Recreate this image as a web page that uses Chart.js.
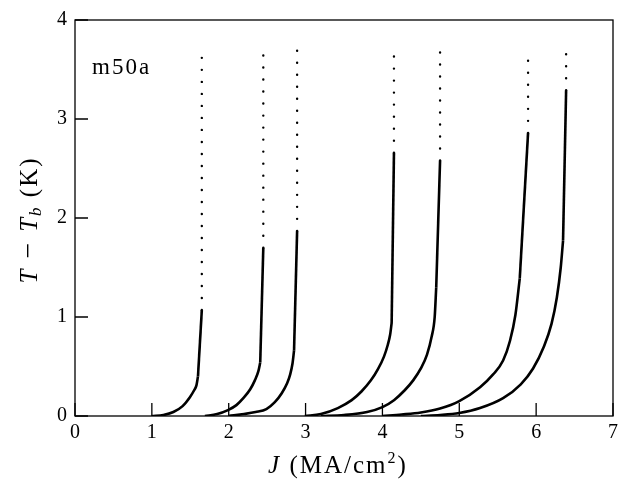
<!DOCTYPE html>
<html>
<head>
<meta charset="utf-8">
<script src="https://cdn.jsdelivr.net/npm/chart.js@4/dist/chart.umd.min.js"></script>
<style>
  html, body { margin: 0; padding: 0; background: #fff; }
  #wrap { width: 639px; height: 481px; }
</style>
</head>
<body>
<div id="wrap"><canvas id="grafico" width="639" height="481"></canvas></div>
<script>
// curvas T - Tb contra J, una por muestra.
// el penultimo punto es donde empieza el tramo recto, el ultimo es el corte
const j1 = [1.00, 1.15, 1.28, 1.40, 1.495, 1.55, 1.58, 1.60, 1.65];
const t1 = [0.00, 0.01, 0.04, 0.10, 0.19, 0.26, 0.31, 0.40, 1.07];
const j2 = [1.69, 1.85, 1.99, 2.10, 2.19, 2.28, 2.34, 2.385, 2.41, 2.45];
const t2 = [0.00, 0.02, 0.06, 0.11, 0.18, 0.27, 0.36, 0.45, 0.54, 1.70];
const j3 = [2.00, 2.20, 2.35, 2.49, 2.60, 2.69, 2.76, 2.80, 2.83, 2.85, 2.89];
const t3 = [0.00, 0.02, 0.04, 0.07, 0.14, 0.23, 0.33, 0.42, 0.53, 0.66, 1.87];
const j4 = [2.99, 3.20, 3.42, 3.60, 3.73, 3.85, 3.94, 4.02, 4.07, 4.10, 4.12, 4.15];
const t4 = [0.00, 0.02, 0.08, 0.16, 0.25, 0.36, 0.47, 0.60, 0.72, 0.82, 0.94, 2.66];
const j5 = [3.20, 3.50, 3.80, 4.00, 4.15, 4.29, 4.40, 4.50, 4.58, 4.64, 4.68, 4.70, 4.75];
const t5 = [0.00, 0.01, 0.04, 0.09, 0.16, 0.26, 0.36, 0.48, 0.62, 0.80, 1.00, 1.30, 2.58];
const j6 = [4.00, 4.25, 4.50, 4.75, 5.00, 5.27, 5.44, 5.57, 5.66, 5.73, 5.787, 5.895];
const t6 = [0.00, 0.015, 0.035, 0.075, 0.15, 0.29, 0.42, 0.56, 0.76, 1.02, 1.39, 2.86];
const j7 = [4.50, 4.75, 5.00, 5.27, 5.57, 5.80, 5.96, 6.10, 6.20, 6.27, 6.32, 6.35, 6.39];
const t7 = [0.00, 0.01, 0.03, 0.08, 0.18, 0.32, 0.48, 0.70, 0.93, 1.20, 1.50, 1.77, 3.29];

// altura hasta donde sube la linea punteada de cada curva
const topePunteado = [3.67, 3.69, 3.72, 3.71, 3.73, 3.65, 3.71];

const ticksX = [0, 1, 2, 3, 4, 5, 6, 7];
const ticksY = [0, 1, 2, 3, 4];
const etiqueta = "m50a";

const curvas = [[j1, t1], [j2, t2], [j3, t3], [j4, t4], [j5, t5], [j6, t6], [j7, t7]];
const FUENTE = "'Liberation Serif', 'DejaVu Serif', serif";

let datasets = [];
curvas.forEach((c, i) => {
    let pts = c[0].map((x, k) => ({ x: x, y: c[1][k] }));
    let n = pts.length;
    // parte curva
    datasets.push({
        data: pts.slice(0, n - 1), showLine: true, borderColor: '#000', borderWidth: 2.6,
        pointRadius: 0, cubicInterpolationMode: 'monotone'
    });
    // tramo recto final
    datasets.push({
        data: pts.slice(n - 2), showLine: true, borderColor: '#000', borderWidth: 2.6,
        pointRadius: 0, tension: 0
    });
    // punteado vertical desde el corte
    let fin = pts[n - 1];
    datasets.push({
        data: [fin, { x: fin.x, y: topePunteado[i] }], showLine: true,
        borderColor: '#000', borderWidth: 2.4, borderDash: [0.01, 12],
        borderCapStyle: 'round', pointRadius: 0
    });
});

// marco, marcas hacia dentro y textos de los ejes
const marcoYTextos = {
    id: 'marcoYTextos',
    afterDraw(chart) {
        const ctx = chart.ctx;
        const a = chart.chartArea;
        const sx = chart.scales.x, sy = chart.scales.y;
        ctx.save();
        ctx.strokeStyle = '#000';
        ctx.lineWidth = 1.3;
        ctx.strokeRect(a.left, a.top, a.right - a.left, a.bottom - a.top);
        ctx.beginPath();
        ticksX.forEach(v => {
            let px = sx.getPixelForValue(v);
            ctx.moveTo(px, a.bottom); ctx.lineTo(px, a.bottom - 13);
        });
        ticksY.forEach(v => {
            let py = sy.getPixelForValue(v);
            ctx.moveTo(a.left, py); ctx.lineTo(a.left + 13, py);
        });
        ctx.stroke();

        ctx.fillStyle = '#000';
        ctx.textBaseline = 'alphabetic';
        ctx.letterSpacing = '2px';
        ctx.font = "23px " + FUENTE;
        ctx.fillText(etiqueta, 92, 74);

        // titulo eje x: J (MA/cm2)
        const fIt = "italic 25px " + FUENTE, fN = "25px " + FUENTE, fS = "16px " + FUENTE;
        let partes = [["J", fIt, 0], [" (MA/cm", fN, 0], ["2", fS, -10], [")", fN, 0]];
        dibujarPartes(ctx, partes, 338, 473);

        // titulo eje y: T - Tb (K), girado
        ctx.save();
        ctx.translate(37, 220);
        ctx.rotate(-Math.PI / 2);
        partes = [["T", fIt, 0], [" \u2212 ", "28px " + FUENTE, 0], ["T", fIt, 0], ["b", "italic 17px " + FUENTE, 4], [" (K)", fN, 0]];
        dibujarPartes(ctx, partes, 0, 0);
        ctx.restore();
        ctx.restore();
    }
};

function dibujarPartes(ctx, partes, cx, base) {
    let total = 0;
    partes.forEach(p => { ctx.font = p[1]; total += ctx.measureText(p[0]).width; });
    let x = cx - total / 2;
    partes.forEach(p => {
        ctx.font = p[1];
        ctx.fillText(p[0], x, base + p[2]);
        x += ctx.measureText(p[0]).width;
    });
}

new Chart(document.getElementById('grafico'), {
    type: 'scatter',
    data: { datasets: datasets },
    options: {
        responsive: false,
        animation: false,
        layout: { padding: { top: 14, right: 26, left: 0, bottom: 0 } },
        plugins: { legend: { display: false }, tooltip: { enabled: false } },
        scales: {
            x: {
                type: 'linear', min: 0, max: 7,
                afterFit: s => { s.height = 65; },
                afterBuildTicks: s => { s.ticks = ticksX.map(v => ({ value: v })); },
                grid: { drawOnChartArea: false, drawTicks: false },
                border: { display: false },
                ticks: { color: '#000', padding: 5, font: { family: FUENTE, size: 20 } }
            },
            y: {
                type: 'linear', min: 0, max: 4,
                afterFit: s => { s.width = 75; },
                afterBuildTicks: s => { s.ticks = ticksY.map(v => ({ value: v })); },
                grid: { drawOnChartArea: false, drawTicks: false },
                border: { display: false },
                ticks: { color: '#000', padding: 8, font: { family: FUENTE, size: 20 } }
            }
        }
    },
    plugins: [marcoYTextos]
});
</script>
</body>
</html>
